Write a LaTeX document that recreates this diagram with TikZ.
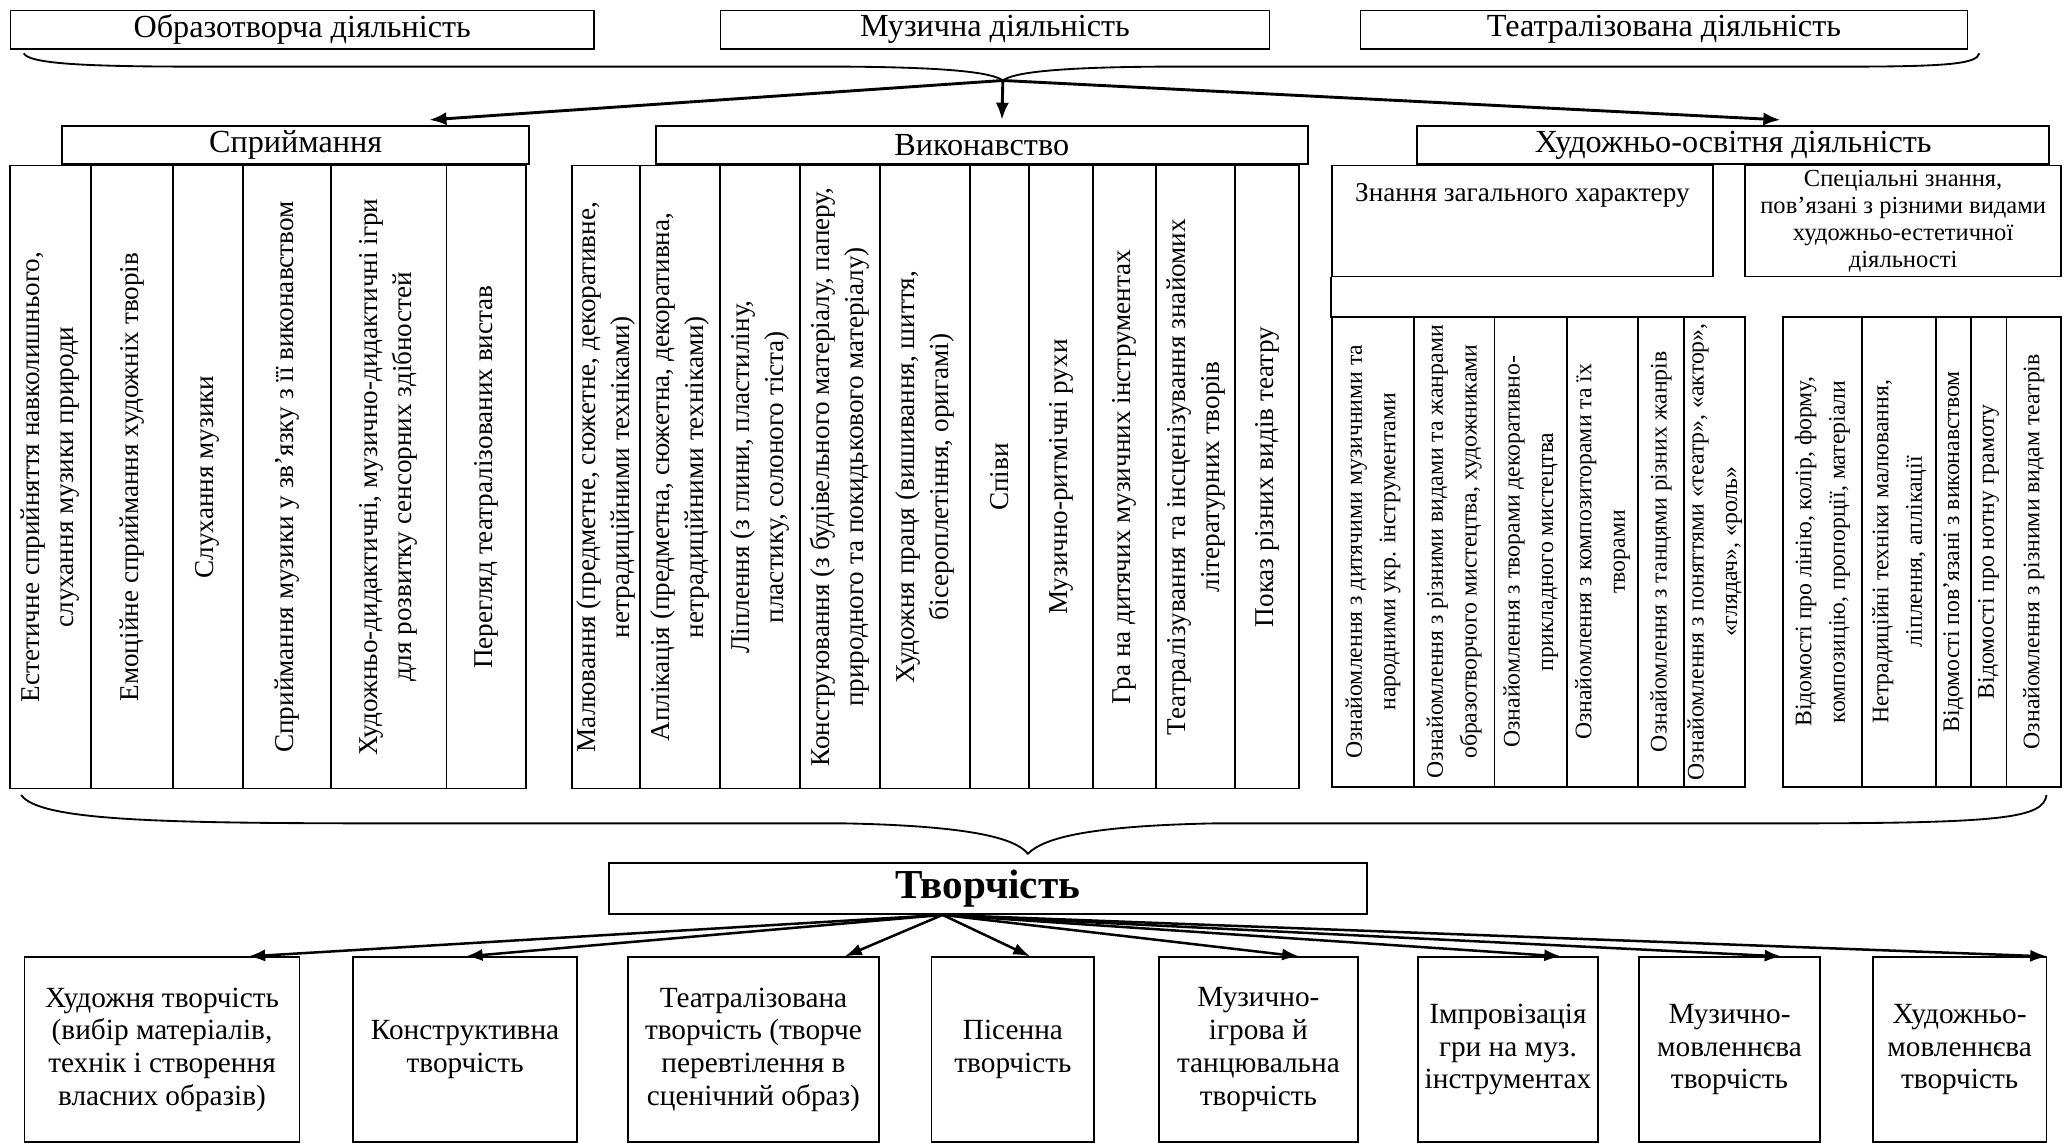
\documentclass[tikz,border=0pt]{standalone}
\usepackage{fontspec}
\setmainfont{Liberation Serif}
\usetikzlibrary{arrows.meta,calc}
\newcommand\mybox[7]{\node[#6,minimum width={(#4-#2)*0.5pt},minimum height={(#5-#3)*0.5pt}] (#1) at ({(#2+#4)/2},{(#3+#5)/2}) {#7};}
\newcommand\mycol[7]{\node[#6,minimum width={(#5-#3)*0.5pt},minimum height={(#4-#2)*0.5pt}] (#1) at ({(#2+#4)/2},{(#3+#5)/2}) {#7};}
\begin{document}
\begin{tikzpicture}[x=0.5pt,y=-0.5pt,
  box/.style={draw,line width=0.65pt,inner sep=0pt,align=center},
  hdr/.style={box,font=\fontsize{12.2}{14}\selectfont},
  vcol/.style={box,rotate=90,font=\fontsize{10.3}{12.9}\selectfont},
  vcols/.style={box,rotate=90,font=\fontsize{9}{12.7}\selectfont},
  bot/.style={box,font=\fontsize{11.1}{12.4}\selectfont},
  brace/.style={line width=0.7pt},
  arrA/.style={line width=1.1pt,-{Latex[length=6.5pt,width=5pt]}},
  arrB/.style={line width=0.95pt,-{Latex[length=6.5pt,width=4.6pt]}}]
\useasboundingbox (0,0) rectangle (1568,866);
% top row
\mybox{t1}{8}{8}{450}{37}{hdr}{Образотворча діяльність}
\mybox{t2}{546}{8}{962}{37}{hdr}{Музична діяльність}
\mybox{t3}{1031}{8}{1491}{37}{hdr}{Театралізована діяльність}
% top brace
\draw[brace] (18,40.4) .. controls (22,48) and (60,50.5) .. (150,50.5) -- (640,50.5) .. controls (720,51) and (752,55) .. (760,61) .. controls (768,55) and (800,51) .. (880,50.5) -- (1400,50.5) .. controls (1480,50.5) and (1498,48) .. (1500,40.4);
\coordinate (btop) at (760,61);
% level 2
\mybox{sp}{47}{95.5}{401}{124.5}{hdr}{Сприймання}
\mybox{vk}{497}{95.5}{991}{124.5}{hdr}{Виконавство}
\mybox{ho}{1074}{95.5}{1553}{124.5}{hdr}{Художньо-освітня діяльність}
\draw[arrA] (btop) -- ($(sp.north west)+(279,-4)$);
\draw[arrA] (btop) -- ($(vk.north west)+(263,-4)$);
\draw[arrA] (btop) -- ($(ho.north west)+(276,-4)$);
% Сприймання columns
\mycol{s1}{7.6}{125.5}{69}{597.6}{vcol}{Естетичне сприйняття навколишнього,\\слухання музики природи}
\mycol{s2}{69}{125.5}{131}{597.6}{vcol}{Емоційне сприймання художніх творів}
\mycol{s3}{131}{125.5}{184}{597.6}{vcol}{Слухання музики}
\mycol{s4}{184}{125.5}{251}{597.6}{vcol}{Сприймання музики у зв’язку з її виконавством}
\mycol{s5}{251}{125.5}{338.3}{597.6}{vcol}{Художньо-дидактичні, музично-дидактичні ігри\\для розвитку сенсорних здібностей}
\mycol{s6}{338.3}{125.5}{398.7}{597.6}{vcol}{Перегляд театралізованих вистав}
% Виконавство columns
\mycol{v1}{433.6}{125.5}{485}{597.6}{vcol}{Малювання (предметне, сюжетне, декоративне,\\нетрадиційними техніками)}
\mycol{v2}{485}{125.5}{545.7}{597.6}{vcol}{Аплікація (предметна, сюжетна, декоративна,\\нетрадиційними техніками)}
\mycol{v3}{545.7}{125.5}{606.2}{597.6}{vcol}{Ліплення (з глини, пластиліну,\\пластику, солоного тіста)}
\mycol{v4}{606.2}{125.5}{666.9}{597.6}{vcol}{Конструювання (з будівельного матеріалу, паперу,\\природного та покидькового матеріалу)}
\mycol{v5}{666.9}{125.5}{734.9}{597.6}{vcol}{Художня праця (вишивання, шиття,\\бісероплетіння, оригамі)}
\mycol{v6}{734.9}{125.5}{780}{597.6}{vcol}{Співи}
\mycol{v7}{780}{125.5}{828.5}{597.6}{vcol}{Музично-ритмічні рухи}
\mycol{v8}{828.5}{125.5}{876.3}{597.6}{vcol}{Гра на дитячих музичних інструментах}
\mycol{v9}{876.3}{125.5}{936.2}{597.6}{vcol}{Театралізування та інсценізування знайомих\\літературних творів}
\mycol{v10}{936.2}{125.5}{984.7}{597.6}{vcol}{Показ різних видів театру}
% Художньо-освітня
\mybox{zg}{1009.5}{125.5}{1298}{209.5}{box}{}
\node[inner sep=0pt,anchor=north,font=\fontsize{10.3}{12.9}\selectfont] (zgt) at ($(zg.north)+(0,14)$) {Знання загального характеру};
\draw[line width=0.65pt] (zg.south west) -- ++(0,30.5);
\mybox{sz}{1322.6}{125.5}{1562}{209.5}{box,font=\fontsize{9.3}{10.2}\selectfont}{Спеціальні знання,\\пов’язані з різними видами\\художньо-естетичної\\діяльності}
\mycol{h1}{1009.5}{240}{1071.6}{596.3}{vcols}{Ознайомлення з дитячими музичними та\\народними укр. інструментами}
\mycol{h2}{1071.6}{240}{1132.5}{596.3}{vcols}{Ознайомлення з різними видами та жанрами\\образотворчого мистецтва, художниками}
\mycol{h3}{1132.5}{240}{1187.6}{596.3}{vcols}{Ознайомлення з творами декоративно-\\прикладного мистецтва}
\mycol{h4}{1187.6}{240}{1241.2}{596.3}{vcols}{Ознайомлення з композиторами та їх\\творами}
\mycol{h5}{1241.2}{240}{1276.3}{596.3}{vcols}{Ознайомлення з танцями різних жанрів}
\mycol{h6}{1276.3}{240}{1322.6}{596.3}{vcols}{Ознайомлення з поняттями «театр», «актор»,\\«глядач», «роль»}
\mycol{r1}{1351}{240}{1411.3}{596.3}{vcols}{Відомості про лінію, колір, форму,\\композицію, пропорції, матеріали}
\mycol{r2}{1411.3}{240}{1467.4}{596.3}{vcols}{Нетрадиційні техніки малювання,\\ліплення, аплікації}
\mycol{r3}{1467.4}{240}{1493.5}{596.3}{vcols}{Відомості пов’язані з виконавством}
\mycol{r4}{1493.5}{240}{1520.7}{596.3}{vcols}{Відомості про нотну грамоту}
\mycol{r5}{1520.7}{240}{1562}{596.3}{vcols}{Ознайомлення з різними видам театрів}
% lower brace
\draw[brace] (16,602.5) .. controls (30,622) and (120,624) .. (300,624) -- (640,624) .. controls (740,626) and (770,636) .. (779,647) .. controls (790,636) and (820,626) .. (920,624) -- (1350,624) .. controls (1520,624) and (1548,620) .. (1551,602.5);
% Творчість
\mybox{tv}{461.5}{653.8}{1035.8}{692.7}{box,font=\fontsize{15.6}{18}\selectfont\bfseries}{Творчість}
\coordinate (tvo) at ($(tv.south west)+(253.5,0)$);
% bottom boxes
\mybox{b1}{18.6}{725.5}{227}{865.3}{bot}{Художня творчість\\(вибір матеріалів,\\технік і створення\\власних образів)}
\mybox{b2}{267.4}{725.5}{437.5}{865.3}{bot}{Конструктивна\\творчість}
\mybox{b3}{475.8}{725.5}{666.2}{865.3}{bot}{Театралізована\\творчість (творче\\перевтілення в\\сценічний образ)}
\mybox{b4}{706}{725.5}{829.3}{865.3}{bot}{Пісенна\\творчість}
\mybox{b5}{878.3}{725.5}{1029.1}{865.3}{bot}{Музично-\\ігрова й\\танцювальна\\творчість}
\mybox{b6}{1074.6}{725.5}{1211}{865.3}{bot}{Імпровізація\\гри на муз.\\інструментах}
\mybox{b7}{1242}{725.5}{1379.4}{865.3}{bot}{Музично-\\мовленнєва\\творчість}
\mybox{b8}{1419.2}{725.5}{1551}{865.3}{bot}{Художньо-\\мовленнєва\\творчість}
\draw[arrB] (tvo) -- ($(b1.north west)+(170,0)$);
\draw[arrB] (tvo) -- ($(b2.north west)+(86,0)$);
\draw[arrB] (tvo) -- ($(b3.north west)+(165,0)$);
\draw[arrB] (tvo) -- ($(b4.north west)+(75.5,0)$);
\draw[arrB] (tvo) -- ($(b5.north west)+(107,0)$);
\draw[arrB] (tvo) -- ($(b6.north west)+(109.4,0)$);
\draw[arrB] (tvo) -- ($(b7.north west)+(109,0)$);
\draw[arrB] (tvo) -- (b8.north east);
\end{tikzpicture}
\end{document}
